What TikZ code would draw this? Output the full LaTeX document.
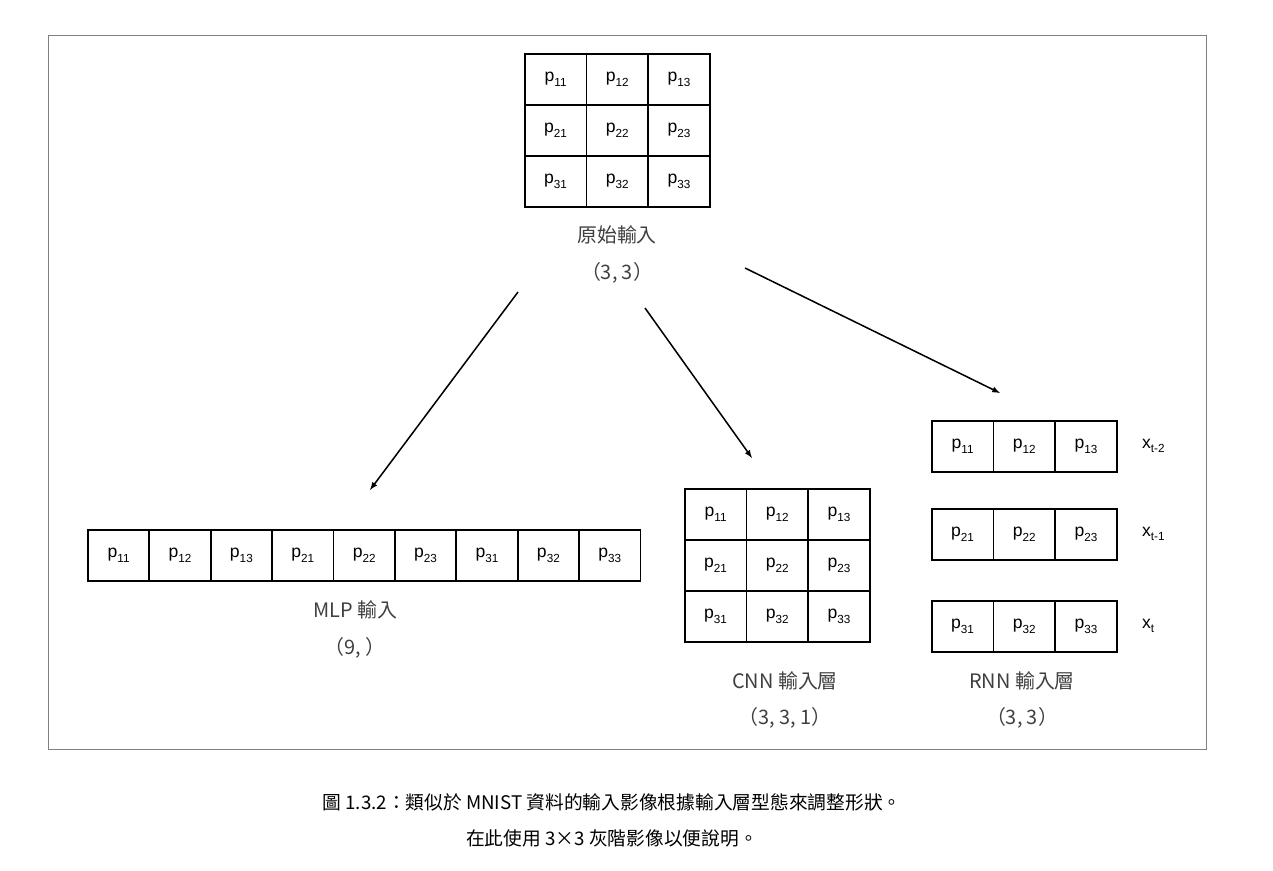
\documentclass[tikz,border=0pt]{standalone}
\usepackage{fontspec}
\setmainfont{Liberation Sans}
\newfontfamily\cjk{Noto Sans CJK TC}
\newcommand\sbx[2]{#1\raisebox{-0.45ex}{\fontsize{10}{10}\selectfont #2}}
\begin{document}
\begin{tikzpicture}[x=0.03cm,y=-0.03cm,
  cell/.style={draw,line width=1.4pt,minimum width=61.5*0.03cm,minimum height=51*0.03cm,inner sep=0pt,font=\fontsize{15}{15}\selectfont,anchor=north west},
  lab/.style={font=\cjk\fontsize{17}{17}\selectfont,text=black!75},
  arr/.style={-latex,line width=1.3pt}]
\useasboundingbox (0,0) rectangle (1273,870);
\draw[black!50,line width=0.6pt] (48,35) rectangle (1206,749);
% top grid
\foreach \r in {1,2,3} \foreach \c in {1,2,3}
  \node[cell] (t\r\c) at ({524+61.7*(\c-1)},{53+51*(\r-1)}) {\sbx{p}{\r\c}};
\node[lab] (tl) at (617,235) {原始輸入};
\node[lab] (ts) at (617,273) {（3, 3）};
% MLP
\foreach \r in {1,2,3} \foreach \c in {1,2,3}
  \node[cell] (m\r\c) at ({87+61.4*(3*(\r-1)+\c-1)},529) {\sbx{p}{\r\c}};
\node[lab] (ml) at (355,610) {MLP 輸入};
\node[lab] (ms) at (355,648) {（9, ）};
% CNN
\foreach \r in {1,2,3} \foreach \c in {1,2,3}
  \node[cell] (c\r\c) at ({684+61.7*(\c-1)},{488+51*(\r-1)}) {\sbx{p}{\r\c}};
\node[lab] (cl) at (785,681) {CNN 輸入層};
\node[lab] (cs) at (785,718) {（3, 3, 1）};
% RNN
\foreach \r/\y in {1/420,2/508,3/600} \foreach \c in {1,2,3}
  \node[cell] (r\r\c) at ({931+61.7*(\c-1)},\y) {\sbx{p}{\r\c}};
\node[font=\fontsize{15}{15}\selectfont,anchor=west] (x1) at (1138,446) {\sbx{x}{t-2}};
\node[font=\fontsize{15}{15}\selectfont,anchor=west] (x2) at (1138,534) {\sbx{x}{t-1}};
\node[font=\fontsize{15}{15}\selectfont,anchor=west] (x3) at (1138,626) {\sbx{x}{t}};
\node[lab] (rl) at (1022,681) {RNN 輸入層};
\node[lab] (rs) at (1022,718) {（3, 3）};
% arrows
\coordinate (a1) at (518,292); \coordinate (b1) at (370,490);
\coordinate (a2) at (645,308); \coordinate (b2) at (752,458);
\coordinate (a3) at (745,268); \coordinate (b3) at (1000,393);
\draw[arr] (a1) -- (b1);
\draw[arr] (a2) -- (b2);
\draw[arr] (a3) -- (b3);
% caption
\node[font=\cjk\fontsize{16}{16}\selectfont] (cap1) at (612,802) {圖 1.3.2：類似於 MNIST 資料的輸入影像根據輸入層型態來調整形狀。};
\node[font=\cjk\fontsize{16}{16}\selectfont] (cap2) at (612,838) {在此使用 3×3 灰階影像以便說明。};
\end{tikzpicture}
\end{document}
